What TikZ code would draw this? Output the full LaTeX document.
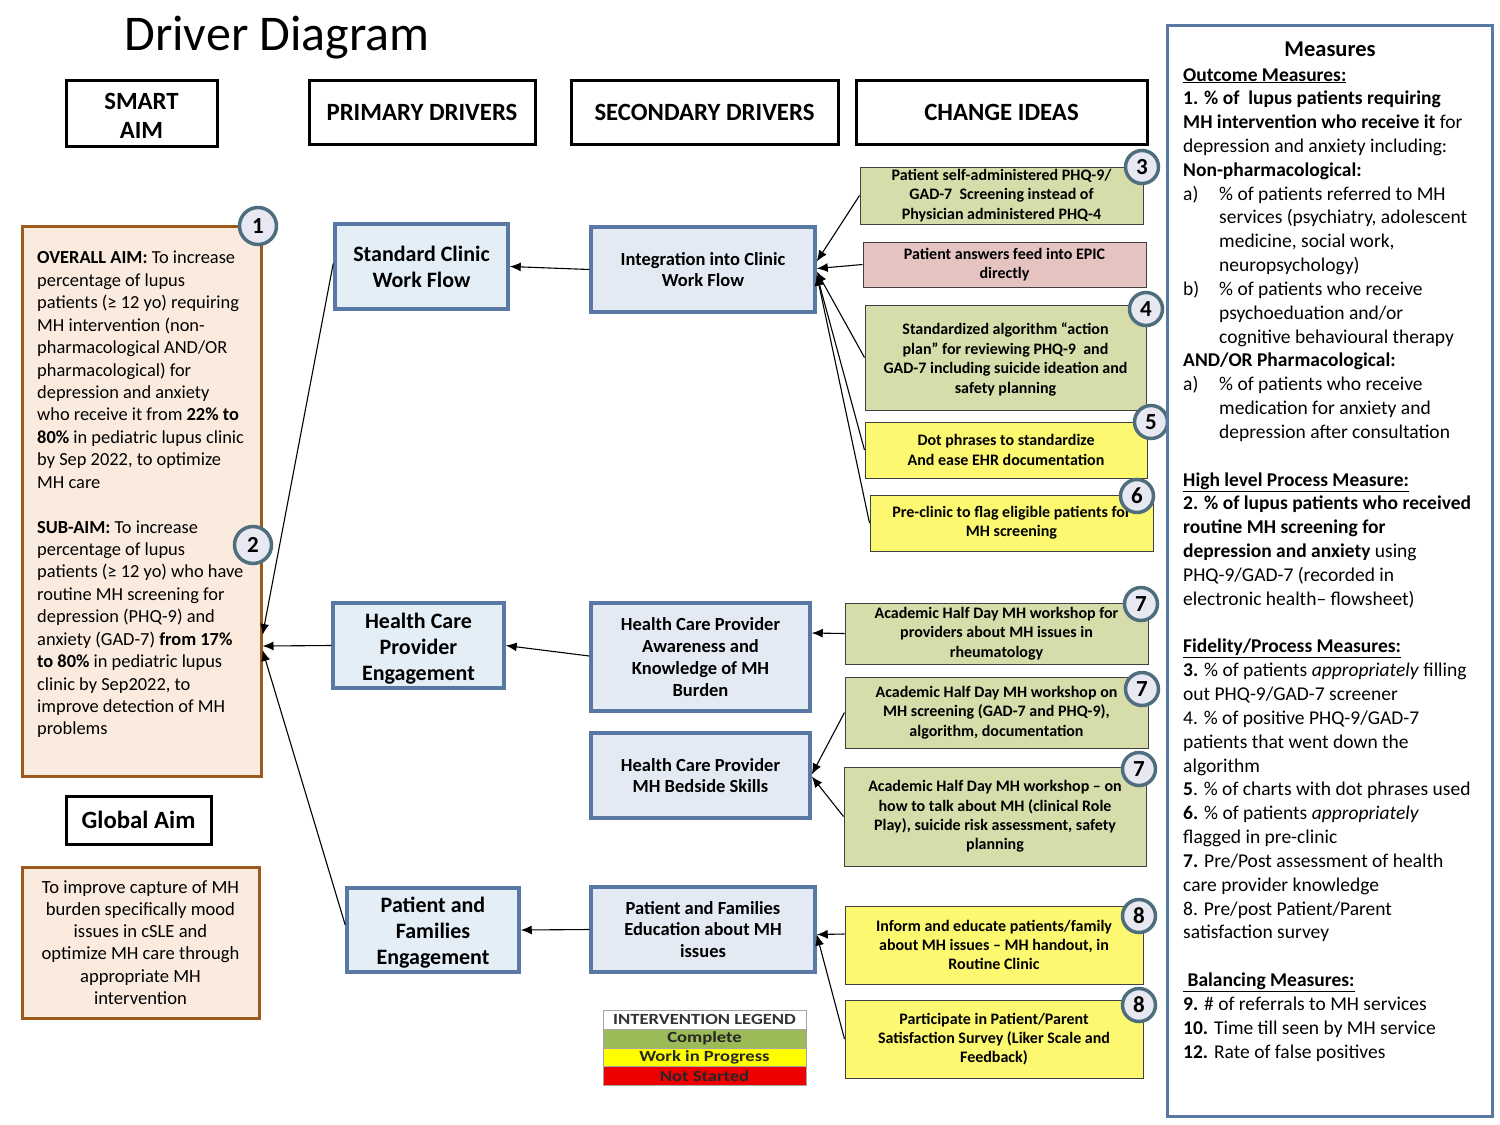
\documentclass[tikz,border=0pt]{standalone}
\usepackage{fontspec}
\setmainfont{Carlito}
\usetikzlibrary{arrows.meta}
\definecolor{peach}{HTML}{FBEBDF}
\definecolor{brownb}{HTML}{9C5A1C}
\definecolor{pdfill}{HTML}{E3EEF7}
\definecolor{sdfill}{HTML}{E4EAF4}
\definecolor{blueb}{HTML}{5A78A4}
\definecolor{cigreen}{HTML}{D6DDAA}
\definecolor{cipink}{HTML}{E4C3C1}
\definecolor{ciyellow}{HTML}{FCF870}
\definecolor{numfill}{HTML}{E8E8F2}
\definecolor{numbord}{HTML}{4E6E7E}
\definecolor{lggreen}{HTML}{9BBB59}
\definecolor{lgyellow}{HTML}{FFFF00}
\definecolor{lgred}{HTML}{EE0000}
\newcommand\myfs[2]{\fontsize{#1}{#2}\selectfont}
\newcommand\mli[1]{\makebox[36pt][l]{#1}}
\newcommand\mlc{\hspace*{36pt}}
\begin{document}
\begin{tikzpicture}[x=1pt,y=-1pt,
  hdr/.style={draw=black,line width=3pt,fill=white,align=center,inner sep=0pt,font=\bfseries\myfs{24.8}{29}},
  plaintext/.style={align=center,inner sep=0pt},
  aimbox/.style={draw=brownb,line width=3pt,fill=peach,inner sep=0pt},
  pd/.style={draw=blueb,line width=3.5pt,fill=pdfill,align=center,inner sep=0pt,font=\bfseries\myfs{22}{26}},
  pdtext/.style={align=center,inner sep=0pt,font=\bfseries\myfs{22}{26}},
  sd/.style={draw=blueb,line width=3.5pt,fill=sdfill,align=center,inner sep=0pt,font=\bfseries\myfs{18.5}{21.8}},
  ci/.style={draw=black!75,line width=1pt,align=center,inner sep=0pt,font=\bfseries\myfs{16}{19.3}},
  num/.style={circle,draw=numbord,line width=3.5pt,fill=numfill,minimum size=33pt,inner sep=0pt,font=\bfseries\myfs{23}{23}},
  bignum/.style={num,minimum size=37pt},
  lg/.style={draw=black!35,line width=0.8pt,minimum width=203pt,minimum height=19pt,inner sep=0pt,font=\bfseries\myfs{15.5}{15.5}},
  arr/.style={-{Latex[length=11pt,width=9pt]},line width=1.1pt,black}
]
\useasboundingbox (0,0) rectangle (1500,1125);

% title
\node[font=\myfs{50}{54}] (title) at (277,38) {Driver Diagram};

% headers
\node[hdr,minimum width=151pt,minimum height=66pt] (hsmart) at (141.5,113) {};
\node[plaintext,font=\bfseries\myfs{24.8}{29}] (hsmartt) at ([yshift=-3pt]hsmart.center) {SMART\\AIM};
\node[hdr,minimum width=226pt,minimum height=64pt] (hprim) at (422,112) {PRIMARY DRIVERS};
\node[hdr,minimum width=267pt,minimum height=64pt] (hsec) at (704.5,112) {SECONDARY DRIVERS};
\node[hdr,minimum width=291pt,minimum height=64pt] (hchg) at (1001.5,112) {CHANGE IDEAS};

% aims
\node[aimbox,minimum width=239pt,minimum height=550pt] (aim) at (141.5,501) {};
\node[anchor=north west,align=left,inner sep=0pt,font=\myfs{18.4}{22.43}] (aimtext) at (37,251) {%
\textbf{OVERALL AIM:} To increase\\
percentage of lupus\\
patients (≥ 12 yo) requiring\\
MH intervention (non-\\
pharmacological AND/OR\\
pharmacological) for\\
depression and anxiety\\
who receive it from \textbf{22\% to}\\
\textbf{80\%} in pediatric lupus clinic\\
by Sep 2022, to optimize\\
MH care\\
\mbox{}\\
\textbf{SUB-AIM:} To increase\\
percentage of lupus\\
patients (≥ 12 yo) who have\\
routine MH screening for\\
depression (PHQ-9) and\\
anxiety (GAD-7) \textbf{from 17\%}\\
\textbf{to 80\%} in pediatric lupus\\
clinic by Sep2022, to\\
improve detection of MH\\
problems};
\node[bignum] (n1) at (258,226) {1};
\node[bignum] (n2) at (253,545) {2};

\node[hdr,minimum width=145pt,minimum height=48pt] (hglob) at (138.5,820) {Global Aim};
\node[aimbox,minimum width=237pt,minimum height=151pt,align=center,font=\myfs{18.6}{22.3}] (glob) at (140.5,942.5) {%
To improve capture of MH\\ burden specifically mood\\ issues in cSLE and\\ optimize MH care through\\ appropriate MH\\ intervention};

% primary drivers
\node[pd,minimum width=173pt,minimum height=85pt] (pd1) at (421.5,266.5) {Standard Clinic\\Work Flow};
\node[pd,minimum width=171pt,minimum height=85pt] (pd2) at (418.5,645.5) {};
\node[pdtext] (pd2t) at ([yshift=-3pt]pd2.center) {Health Care\\Provider\\Engagement};
\node[pd,minimum width=172pt,minimum height=84pt] (pd3) at (433,930) {};
\node[pdtext] (pd3t) at ([yshift=-3pt]pd3.center) {Patient and\\Families\\Engagement};

% secondary drivers
\node[sd,minimum width=224pt,minimum height=85pt] (sd1) at (703,269.5) {Integration into Clinic\\Work Flow};
\node[sd,minimum width=219pt,minimum height=108pt] (sd2) at (700.5,657) {Health Care Provider\\Awareness and\\Knowledge of MH\\Burden};
\node[sd,minimum width=219pt,minimum height=85pt] (sd3) at (700.5,775.5) {Health Care Provider\\MH Bedside Skills};
\node[sd,minimum width=224pt,minimum height=85pt] (sd4) at (703,929.5) {Patient and Families\\Education about MH\\issues};

% change ideas
\node[ci,fill=cigreen,minimum width=283pt,minimum height=57pt] (c3) at (1001.5,195.5) {Patient self-administered PHQ-9/\\GAD-7\ \ Screening instead of\\Physician administered PHQ-4};
\node[ci,fill=cipink,minimum width=283pt,minimum height=45pt] (cE) at (1004.5,264.5) {Patient answers feed into EPIC\\directly};
\node[ci,fill=cigreen,minimum width=281pt,minimum height=105pt] (c4) at (1005.5,357.5) {};
\node[plaintext,font=\bfseries\myfs{16}{19.7}] (c4t) at ([yshift=-2pt]c4.center) {Standardized algorithm “action\\plan” for reviewing PHQ-9\ \ and\\GAD-7 including suicide ideation and\\safety planning};
\node[ci,fill=ciyellow,minimum width=282pt,minimum height=56pt] (c5) at (1006,450) {Dot phrases to standardize\\And ease EHR documentation};
\node[ci,fill=ciyellow,minimum width=283pt,minimum height=56pt] (c6) at (1011.5,523) {Pre-clinic to flag eligible patients for\\MH screening};
\node[ci,fill=cigreen,minimum width=303pt,minimum height=61pt] (c7a) at (996.5,633.5) {Academic Half Day MH workshop for\\providers about MH issues in\\rheumatology};
\node[ci,fill=cigreen,minimum width=303pt,minimum height=71pt] (c7b) at (996.5,712.5) {Academic Half Day MH workshop on\\MH screening (GAD-7 and PHQ-9),\\algorithm, documentation};
\node[ci,fill=cigreen,minimum width=302pt,minimum height=99pt] (c7c) at (995,816.5) {Academic Half Day MH workshop -- on\\how to talk about MH (clinical Role\\Play), suicide risk assessment, safety\\planning};
\node[ci,fill=ciyellow,minimum width=298pt,minimum height=78pt] (c8a) at (994,945) {Inform and educate patients/family\\about MH issues -- MH handout, in\\Routine Clinic};
\node[ci,fill=ciyellow,minimum width=298pt,minimum height=78pt] (c8b) at (994,1039) {Participate in Patient/Parent\\Satisfaction Survey (Liker Scale and\\Feedback)};

\node[num] (n3) at (1142,167) {3};
\node[num] (n4) at (1146,309) {4};
\node[num] (n5) at (1151,422) {5};
\node[num] (n6) at (1137,496) {6};
\node[num] (n7a) at (1141,604) {7};
\node[num] (n7b) at (1142,689) {7};
\node[num] (n7c) at (1139,769) {7};
\node[num] (n8a) at (1139,916) {8};
\node[num] (n8b) at (1139,1005) {8};

% legend
\node[lg,fill=white,text=black!80] (lg0) at (704.5,1019.5) {\scalebox{1.2}[1]{INTERVENTION LEGEND}};
\node[lg,fill=lggreen,text=black!85] (lg1) at (704.5,1038.5) {\scalebox{1.2}[1]{Complete}};
\node[lg,fill=lgyellow,text=black!85] (lg2) at (704.5,1057.5) {\scalebox{1.2}[1]{Work in Progress}};
\node[lg,fill=lgred,text=black!85] (lg3) at (704.5,1076) {\scalebox{1.2}[1]{Not Started}};

% measures
\node[draw=blueb,line width=3pt,fill=white,minimum width=325pt,minimum height=1091pt,inner sep=0pt] (meas) at (1329.5,570.5) {};
\node[font=\bfseries\myfs{22.5}{22.5}] (meastitle) at (1330,49) {Measures};
\node[anchor=north west,align=left,inner sep=0pt,font=\myfs{19.5}{23.83}] (meastext) at (1183,68) {%
\underline{\textbf{Outcome Measures:}}\\
\textbf{1. \% of\ \ lupus patients requiring}\\
\textbf{MH intervention who receive it} for\\
depression and anxiety including:\\
\textbf{Non-pharmacological:}\\
\mli{a)}\% of patients referred to MH\\
\mlc services (psychiatry, adolescent\\
\mlc medicine, social work,\\
\mlc neuropsychology)\\
\mli{b)}\% of patients who receive\\
\mlc psychoeduation and/or\\
\mlc cognitive behavioural therapy\\
\textbf{AND/OR Pharmacological:}\\
\mli{a)}\% of patients who receive\\
\mlc medication for anxiety and\\
\mlc depression after consultation\\
\mbox{}\\
\underline{\textbf{High level Process Measure:}}\\
\textbf{2. \% of lupus patients who received}\\
\textbf{routine MH screening for}\\
\textbf{depression and anxiety} using\\
PHQ-9/GAD-7 (recorded in\\
electronic health-- flowsheet)\\
\mbox{}\\
\underline{\textbf{Fidelity/Process Measures:}}\\
\textbf{3.} \% of patients \textit{appropriately} filling\\
out PHQ-9/GAD-7 screener\\
4. \% of positive PHQ-9/GAD-7\\
patients that went down the\\
algorithm\\
\textbf{5}. \% of charts with dot phrases used\\
\textbf{6.} \% of patients \textit{appropriately}\\
flagged in pre-clinic\\
\textbf{7.} Pre/Post assessment of health\\
care provider knowledge\\
8. Pre/post Patient/Parent\\
satisfaction survey\\
\mbox{}\\
\underline{\textbf{\ Balancing Measures:}}\\
\textbf{9.} \# of referrals to MH services\\
\textbf{10.} Time till seen by MH service\\
\textbf{12.} Rate of false positives};

% connectors
\draw[arr] (sd1.west) -- (pd1.east);
\draw[arr] (c3.west) -- ([yshift=8pt]sd1.east);
\draw[arr] (cE.west) -- ([yshift=1pt]sd1.east);
\draw[arr] (c4.west) -- ([yshift=-2pt]sd1.east);
\draw[arr] (c5.west) -- ([yshift=-5pt]sd1.east);
\draw[arr] (c6.west) -- ([yshift=-5pt]sd1.east);

\draw[arr] ([yshift=3pt]pd1.west) -- ([yshift=-134pt]aim.east);
\draw[arr] (pd2.west) -- ([yshift=-145pt]aim.east);
\draw[arr] ([yshift=5pt]pd3.west) -- ([yshift=-149pt]aim.east);

\draw[arr] ([yshift=1pt]sd2.west) -- (pd2.east);
\draw[arr] (c7a.west) -- ([yshift=24pt]sd2.east);
\draw[arr] (c7b.west) -- ([yshift=1pt]sd3.east);
\draw[arr] (c7c.west) -- ([yshift=-1pt]sd3.east);

\draw[arr] (sd4.west) -- (pd3.east);
\draw[arr] ([yshift=11pt]c8a.west) -- ([yshift=-5pt]sd4.east);
\draw[arr] (c8b.west) -- ([yshift=-5pt]sd4.east);
\end{tikzpicture}
\end{document}
